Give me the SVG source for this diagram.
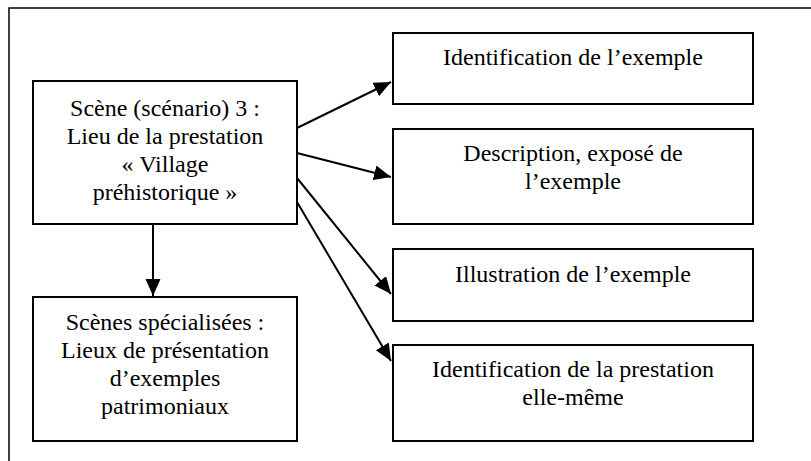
<svg xmlns="http://www.w3.org/2000/svg" width="811" height="461" viewBox="0 0 811 461">
<style>
.box{fill:#fff;stroke:#000;stroke-width:2}
.frame{fill:none;stroke:#000;stroke-width:1.5}
.lbl{font-size:24px;fill:#000;text-anchor:middle}
.conn{stroke:#000;stroke-width:2;fill:none;marker-end:url(#ah)}
</style>
<defs>
<marker id="ah" markerUnits="userSpaceOnUse" markerWidth="18" markerHeight="16" refX="17" refY="7.5" orient="auto">
<path d="M0,0 L17,7.5 L0,15 z" fill="#000"/>
</marker>
</defs>
<rect class="frame" x="9" y="8" width="900" height="500"/>
<g id="connectors">
<line class="conn" x1="297" y1="128" x2="391" y2="82"/>
<line class="conn" x1="297" y1="153" x2="391" y2="177"/>
<line class="conn" x1="297" y1="178" x2="391" y2="294"/>
<line class="conn" x1="297" y1="202" x2="391" y2="361"/>
<line class="conn" x1="153" y1="224" x2="153" y2="296"/>
</g>
<g font-family="'Liberation Serif', 'Times New Roman', 'DejaVu Serif', serif">
<g id="main">
<rect class="box" x="33" y="81" width="264" height="143"/>
<text class="lbl" x="165" y="116">Scène (scénario) 3 :</text>
<text class="lbl" x="165" y="144">Lieu de la prestation</text>
<text class="lbl" x="165" y="172">« Village</text>
<text class="lbl" x="165" y="200">préhistorique »</text>
</g>
<g id="specialised">
<rect class="box" x="33" y="297" width="264" height="144"/>
<text class="lbl" x="165" y="330">Scènes spécialisées :</text>
<text class="lbl" x="165" y="358">Lieux de présentation</text>
<text class="lbl" x="165" y="386">d’exemples</text>
<text class="lbl" x="165" y="414">patrimoniaux</text>
</g>
<g id="identification">
<rect class="box" x="393" y="33" width="360" height="71"/>
<text class="lbl" x="573" y="65">Identification de l’exemple</text>
</g>
<g id="description">
<rect class="box" x="393" y="129" width="360" height="95"/>
<text class="lbl" x="573" y="161">Description, exposé de</text>
<text class="lbl" x="573" y="189">l’exemple</text>
</g>
<g id="illustration">
<rect class="box" x="393" y="249" width="360" height="72"/>
<text class="lbl" x="573" y="282">Illustration de l’exemple</text>
</g>
<g id="prestation">
<rect class="box" x="393" y="345" width="360" height="96"/>
<text class="lbl" x="573" y="377">Identification de la prestation</text>
<text class="lbl" x="573" y="405">elle-même</text>
</g>
</g>
</svg>
